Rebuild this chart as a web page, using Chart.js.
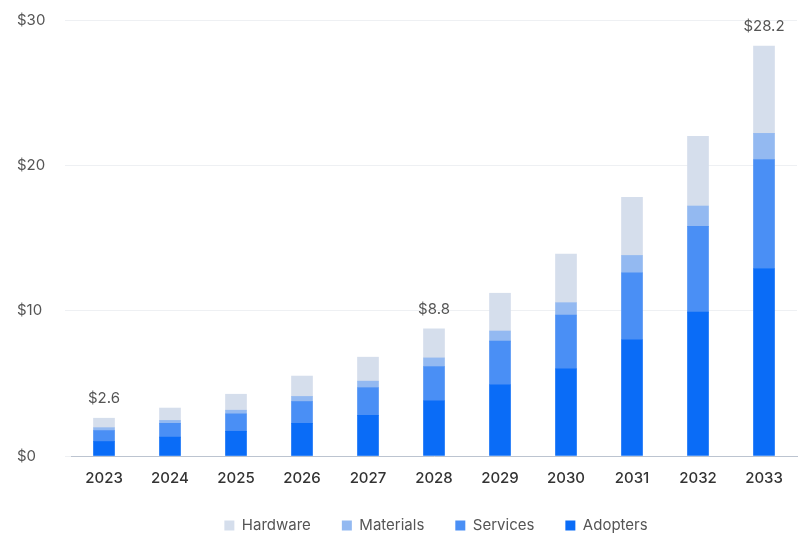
<!DOCTYPE html>
<html>
<head>
<meta charset="utf-8">
<script src="https://cdn.jsdelivr.net/npm/chart.js@4"></script>
<style>
  html, body { margin: 0; padding: 0; background: #fff; }
  #wrap { width: 800px; height: 543px; position: relative; }
</style>
</head>
<body>
<div id="wrap"><canvas id="chart"></canvas></div>
<script>
const years = ["2023", "2024", "2025", "2026", "2027", "2028", "2029", "2030", "2031", "2032", "2033"];
const adopters = [1.0, 1.3, 1.7, 2.25, 2.8, 3.8, 4.9, 6.0, 8.0, 9.9, 12.9];
const services = [0.75, 0.95, 1.2, 1.5, 1.9, 2.35, 3.0, 3.7, 4.6, 5.9, 7.5];
const materials = [0.2, 0.2, 0.25, 0.35, 0.45, 0.6, 0.7, 0.85, 1.2, 1.4, 1.8];
const hardware = [0.65, 0.85, 1.1, 1.4, 1.65, 2.0, 2.6, 3.35, 4.0, 4.8, 6.0];
const totalLabels = { 0: "$2.6", 5: "$8.8", 10: "$28.2" };
const yTicks = [0, 10, 20, 30];

const font = "Inter, 'Noto Sans', sans-serif";

// writes the total above a few bars
const totalsPlugin = {
  id: "totals",
  afterLayout(chart) {
    // legend sits a bit right of centre in the original
    chart.legend.left += 29;
    chart.legend.right += 29;
  },
  afterDatasetsDraw(chart) {
    const ctx = chart.ctx;
    const top = chart.getDatasetMeta(chart.data.datasets.length - 1);
    ctx.save();
    ctx.font = "15px " + font;
    ctx.fillStyle = "#555";
    ctx.textAlign = "center";
    ctx.textBaseline = "bottom";
    Object.entries(totalLabels).forEach(([i, txt]) => {
      const bar = top.data[i];
      ctx.fillText(txt, bar.x, bar.y - 12);
    });
    ctx.restore();
  }
};

new Chart(document.getElementById("chart"), {
  type: "bar",
  data: {
    labels: years,
    datasets: [
      { label: "Adopters", data: adopters, backgroundColor: "#0a6cf7" },
      { label: "Services", data: services, backgroundColor: "#4a8ff5" },
      { label: "Materials", data: materials, backgroundColor: "#93b9f1" },
      { label: "Hardware", data: hardware, backgroundColor: "#d5deec" }
    ]
  },
  options: {
    responsive: true,
    maintainAspectRatio: false,
    animation: false,
    layout: { padding: { left: 17, right: 3, top: 20, bottom: 0 } },
    datasets: { bar: { barThickness: 21 } },
    scales: {
      x: {
        stacked: true,
        afterFit(axis) { axis.height -= 13; },
        grid: { display: false, drawTicks: false },
        border: { color: "#bcc4d0", width: 1 },
        ticks: {
          color: "#333",
          font: { family: font, size: 15, weight: 500 },
          padding: 13
        }
      },
      y: {
        stacked: true,
        min: 0,
        max: 30,
        afterBuildTicks(axis) { axis.ticks = yTicks.map(v => ({ value: v })); },
        afterFit(axis) { axis.width = 54; },
        grid: { color: "#eef0f3", tickLength: 6 },
        border: { display: false },
        ticks: {
          color: "#555",
          font: { family: font, size: 15 },
          crossAlign: "far",
          padding: 4,
          callback: v => "$" + v
        }
      }
    },
    plugins: {
      tooltip: { enabled: false },
      legend: {
        position: "bottom",
        reverse: true,
        labels: {
          boxWidth: 10,
          boxHeight: 10,
          padding: 31,
          color: "#555",
          font: { family: font, size: 15 }
        }
      }
    }
  },
  plugins: [totalsPlugin]
});
</script>
</body>
</html>
